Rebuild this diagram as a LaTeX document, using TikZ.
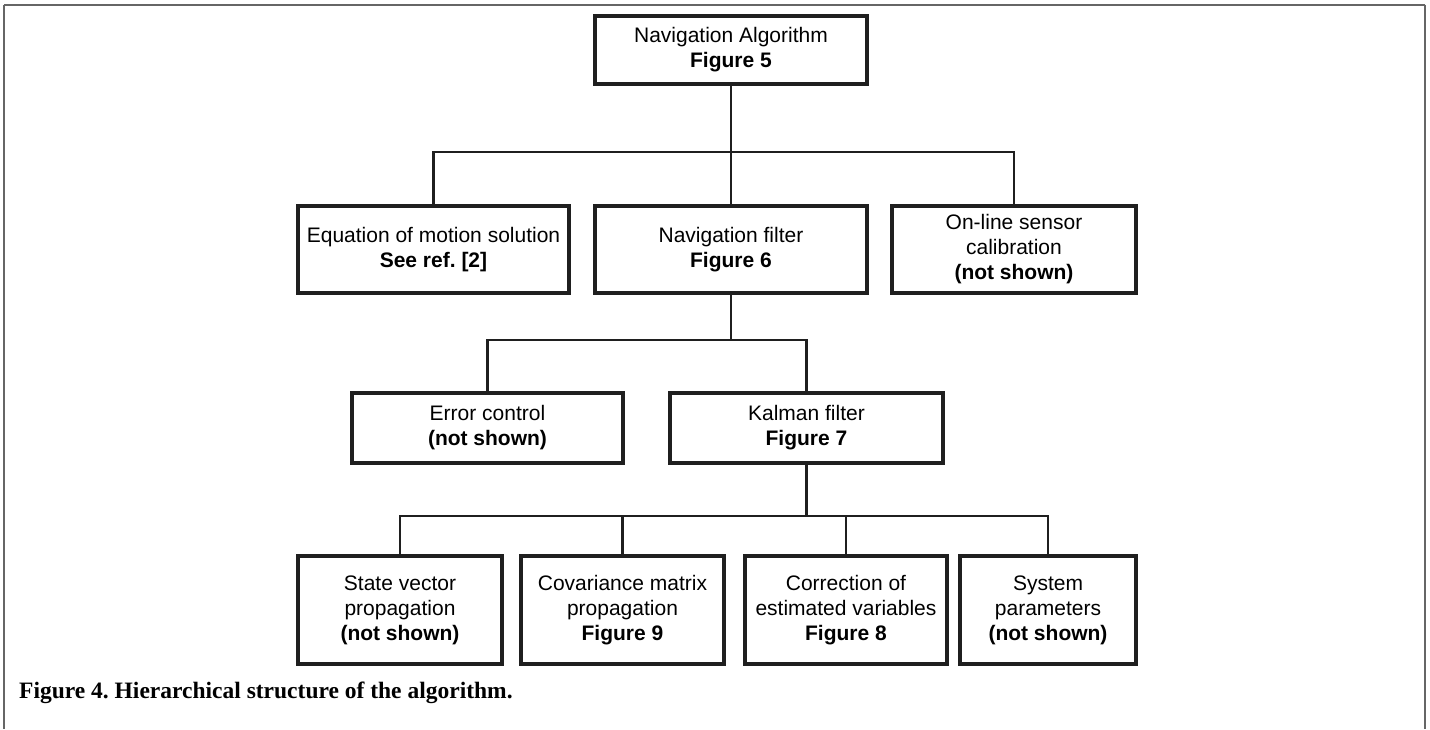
\documentclass[tikz,border=0pt]{standalone}
\usepackage{fontspec}
\setmainfont{Liberation Sans}
\newfontfamily\capfont{Liberation Serif}
\frenchspacing
\begin{document}
\begin{tikzpicture}[x=1pt,y=-1pt,
  box/.style={draw=black!88, line width=3.3pt, rectangle, align=center,
    inner sep=0pt, outer sep=0pt,
    font=\fontsize{21}{25}\selectfont},
  link/.style={draw=black!88, line width=2.9pt},
  frame/.style={draw=black!60}
]
\useasboundingbox (0,0) rectangle (1430,729);

% page frame (open at the bottom)
\draw[frame, line width=2pt] (4,4.5) -- (1425,4.5);
\draw[frame, line width=1.1pt] (4,4.5) -- (4,729);
\draw[frame, line width=1.1pt] (1425,4.5) -- (1425,729);

% level 1
\node[box, minimum width=272, minimum height=68] (top) at (731,50)
  {Navigation Algorithm\\\textbf{Figure 5}};

% level 2
\node[box, minimum width=271, minimum height=87] (eom) at (433.5,249.5)
  {Equation of motion solution\\\textbf{See ref. [2]}};
\node[box, minimum width=272, minimum height=87] (nav) at (731,249.5)
  {Navigation filter\\\textbf{Figure 6}};
\node[box, minimum width=244, minimum height=87] (cal) at (1014,249.5)
  {On-line sensor\\calibration\\\textbf{(not shown)}};

% level 3
\node[box, minimum width=271, minimum height=70] (err) at (487.5,428)
  {Error control\\\textbf{(not shown)}};
\node[box, minimum width=273, minimum height=70] (kal) at (806.5,428)
  {Kalman filter\\\textbf{Figure 7}};

% level 4
\node[box, minimum width=204, minimum height=108] (svp) at (400,610)
  {State vector\\propagation\\\textbf{(not shown)}};
\node[box, minimum width=203, minimum height=108] (cmp) at (622.5,610)
  {Covariance matrix\\propagation\\\textbf{Figure 9}};
\node[box, minimum width=202, minimum height=108] (cev) at (846,610)
  {Correction of\\estimated variables\\\textbf{Figure 8}};
\node[box, minimum width=176, minimum height=108] (sys) at (1048,610)
  {System\\parameters\\\textbf{(not shown)}};

% junctions of the tree
\coordinate (j1) at (731,152);
\coordinate (j2) at (731,340);
\coordinate (j3) at (806.5,516);

% connectors
\draw[link] (top.south) -- (nav.north);
\draw[link] (eom.north) |- (j1) -| (cal.north);

\draw[link] (nav.south) -- (j2);
\draw[link] (err.north) |- (j2) -| (kal.north);

\draw[link] (kal.south) -- (j3);
\draw[link] (svp.north) |- (j3) -| (sys.north);
\draw[link] (cmp.north) -- (cmp.north |- j3);
\draw[link] (cev.north) -- (cev.north |- j3);

% caption
\node[anchor=west, inner sep=0pt, font=\capfont\bfseries\fontsize{23.5}{28}\selectfont] (cap) at (19,693)
  {Figure 4. Hierarchical structure of the algorithm.};
\end{tikzpicture}
\end{document}
